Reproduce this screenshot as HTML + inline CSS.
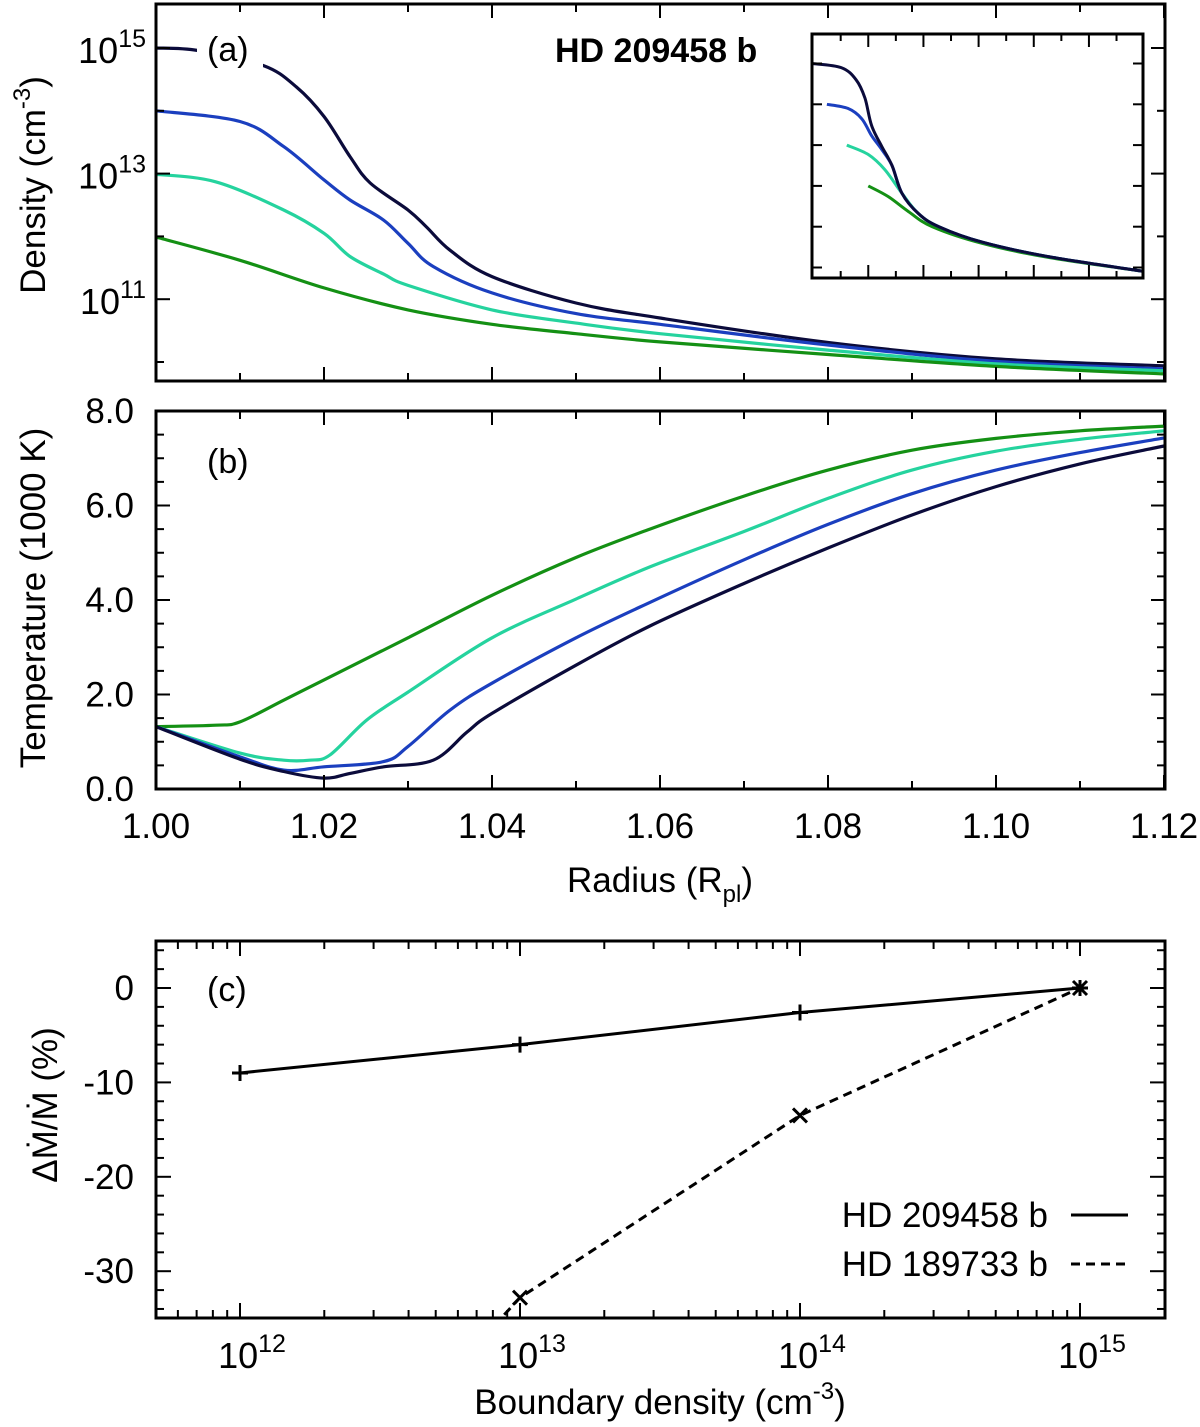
<!DOCTYPE html>
<html><head><meta charset="utf-8"><style>
html,body{margin:0;padding:0;background:#fff;overflow:hidden;}
svg{display:block;}
svg text{font-family:"Liberation Sans",Arial,sans-serif;fill:#000;}
</style></head><body>
<svg id="fig" xmlns="http://www.w3.org/2000/svg" width="1200" height="1427" viewBox="0 0 1200 1427">
<defs>
<clipPath id="clipA"><rect x="156" y="4" width="1009" height="377"/></clipPath>
<clipPath id="clipB"><rect x="156" y="411" width="1009" height="378"/></clipPath>
<clipPath id="clipC"><rect x="156" y="941" width="1009" height="377"/></clipPath>
<clipPath id="clipI"><rect x="812" y="34" width="331" height="244"/></clipPath>
</defs>
<g id="gA"></g>
<g id="gB"></g>
<g id="gC"></g>
<g id="gI"></g>
<g id="gT">
  <rect x="197" y="28" width="66" height="46" fill="#fff"/>
  <text x="207" y="61" font-size="34">(a)</text>
  <text x="555" y="62" font-size="34" font-weight="bold">HD 209458 b</text>
  <text x="207" y="473" font-size="34">(b)</text>
  <text x="207" y="1001" font-size="34">(c)</text>
  <text transform="translate(45,185) rotate(-90)" text-anchor="middle" font-size="35">Density (cm<tspan dy="-15" font-size="24">-3</tspan><tspan dy="15">)</tspan></text>
  <text transform="translate(45,598) rotate(-90)" text-anchor="middle" font-size="35">Temperature (1000 K)</text>
  <text x="660" y="892" text-anchor="middle" font-size="35">Radius (R<tspan dy="10" font-size="24">pl</tspan><tspan dy="-10">)</tspan></text>
  <text transform="translate(57,1105) rotate(-90)" text-anchor="middle" font-size="35">ΔṀ/Ṁ (%)</text>
  <text x="660" y="1414" text-anchor="middle" font-size="35">Boundary density (cm<tspan dy="-15" font-size="24">-3</tspan><tspan dy="15">)</tspan></text>
  <text x="1048" y="1227" text-anchor="end" font-size="35">HD 209458 b</text>
  <line x1="1071" y1="1215" x2="1128" y2="1215" stroke="#000" stroke-width="3"/>
  <text x="1048" y="1276" text-anchor="end" font-size="35">HD 189733 b</text>
  <line x1="1071" y1="1264" x2="1128" y2="1264" stroke="#000" stroke-width="3" stroke-dasharray="9,6"/>
</g>
</svg>
<script>
// ---- Panel (a) density data (log10 cm^-3) ----
const navyX = [1.0,1.005,1.0128,1.0167,1.02,1.0231,1.0255,1.03,1.0322,1.035,1.04,1.05,1.06,1.08,1.10,1.12];
const navyN = [15.0,14.96,14.72,14.38,13.91,13.27,12.85,12.42,12.15,11.78,11.36,10.94,10.70,10.31,10.05,9.94];
const blueX = [1.0,1.01,1.0152,1.02,1.0231,1.0271,1.03,1.033,1.04,1.05,1.06,1.08,1.10,1.12];
const blueN = [14.0,13.83,13.43,12.9,12.58,12.26,11.89,11.52,11.1,10.77,10.6,10.27,10.01,9.89];
const tealX = [1.0,1.0071,1.0152,1.02,1.0231,1.0271,1.03,1.04,1.05,1.06,1.08,1.10,1.12];
const tealN = [12.99,12.87,12.42,12.05,11.68,11.4,11.22,10.83,10.62,10.45,10.19,9.97,9.86];
const greenX = [1.0,1.01,1.02,1.03,1.04,1.05,1.06,1.08,1.10,1.12];
const greenN = [11.99,11.62,11.18,10.83,10.6,10.45,10.32,10.12,9.93,9.81];
// ---- Panel (b) temperature data (1000 K) ----
const navyTX = [1.0,1.01,1.0152,1.02,1.0231,1.0271,1.033,1.037,1.04,1.05,1.0588,1.07,1.08,1.09,1.10,1.11,1.12];
const navyT = [1.32,0.63,0.37,0.23,0.33,0.47,0.61,1.2,1.6,2.62,3.45,4.35,5.1,5.8,6.4,6.88,7.26];
const blueTX = [1.0,1.01,1.0152,1.02,1.0271,1.03,1.035,1.04,1.05,1.0588,1.07,1.08,1.09,1.10,1.11,1.12];
const blueT = [1.32,0.68,0.40,0.47,0.58,0.90,1.67,2.24,3.2,3.95,4.85,5.6,6.25,6.75,7.12,7.43];
const tealTX = [1.0,1.01,1.0152,1.0183,1.0207,1.0251,1.03,1.04,1.05,1.0588,1.07,1.08,1.09,1.10,1.11,1.12];
const tealT = [1.32,0.76,0.61,0.61,0.72,1.46,2.05,3.2,4.02,4.7,5.45,6.15,6.75,7.15,7.4,7.58];
const greenTX = [1.0,1.0071,1.01,1.0152,1.02,1.03,1.04,1.05,1.0588,1.07,1.08,1.09,1.10,1.11,1.12];
const greenT = [1.32,1.35,1.42,1.88,2.31,3.2,4.1,4.9,5.5,6.2,6.75,7.17,7.42,7.58,7.68];
// ---- Inset data (arbitrary x units, log10 density) ----
const insNavyX = [0,0.53,0.8,0.96,1.08,1.26,1.45,1.63,1.93,2.3,3.09,4.31,5.99];
const insNavyN = [15.0,14.9,14.6,14.15,13.48,12.98,12.5,11.82,11.32,11.0,10.62,10.26,9.91];
const insBlueX = [0.27,0.65,0.9,1.08,1.26,1.45,1.63,1.93,2.3,3.09,4.31,5.99];
const insBlueN = [14.0,13.9,13.65,13.23,12.9,12.5,11.82,11.32,11.0,10.62,10.26,9.91];
const insTealX = [0.63,1.02,1.32,1.63,1.93,2.3,3.09,4.31,5.99];
const insTealN = [13.0,12.77,12.4,11.82,11.32,11.0,10.62,10.26,9.91];
const insGreenX = [1.02,1.38,1.75,2.18,3.09,4.31,5.99];
const insGreenN = [12.0,11.74,11.37,11.0,10.59,10.24,9.91];
// ---- Panel (c) mass loss data ----
const boundaryLog = [12,13,14,15];
const hd209Values = [-9,-6,-2.6,0];
const hd189Log = [12,13,14,15];
const hd189Values = [-65,-32.8,-13.5,0];
const ticksA = [15,13,11];
const ticksB = [0,2,4,6,8];
const ticksR = [1.00,1.02,1.04,1.06,1.08,1.10,1.12];
const ticksC = [0,-10,-20,-30];
const ticksCx = [12,13,14,15];

const NS = "http://www.w3.org/2000/svg";
function mk(tag, attrs, parent){const e=document.createElementNS(NS,tag);for(const k in attrs)e.setAttribute(k,attrs[k]);parent.appendChild(e);return e;}
const xR = r => 156 + (r-1)*8400;
const yA = l => 48 + (15-l)*62.8;
const yB = t => 789 - t*47.25;
const xC = l => 240 + (l-12)*280;
const yC = v => 988 - v*9.44;
const xI = v => 812 + v*331/6;
const yI = l => 63.5 + (15-l)*40.8;

function smoothPath(pts){
  let d = "M"+pts[0][0].toFixed(1)+","+pts[0][1].toFixed(1);
  for(let i=0;i<pts.length-1;i++){
    const p0=pts[Math.max(0,i-1)],p1=pts[i],p2=pts[i+1],p3=pts[Math.min(pts.length-1,i+2)];
    const c1=[p1[0]+(p2[0]-p0[0])/6,p1[1]+(p2[1]-p0[1])/6];
    const c2=[p2[0]-(p3[0]-p1[0])/6,p2[1]-(p3[1]-p1[1])/6];
    d+=" C"+c1[0].toFixed(1)+","+c1[1].toFixed(1)+" "+c2[0].toFixed(1)+","+c2[1].toFixed(1)+" "+p2[0].toFixed(1)+","+p2[1].toFixed(1);
  }
  return d;
}
function line(g,x1,y1,x2,y2,w){return mk("line",{x1,y1,x2,y2,stroke:"#000","stroke-width":w||2},g);}

const gA=document.getElementById("gA"),gB=document.getElementById("gB"),gC=document.getElementById("gC"),gI=document.getElementById("gI");
const colors={navy:"#0b0b3b",blue:"#1b3fbf",teal:"#25d39e",green:"#149014"};

const cA = mk("g",{"clip-path":"url(#clipA)"},gA);
[[navyX,navyN,colors.navy,"density-curve-1e15"],[blueX,blueN,colors.blue,"density-curve-1e14"],[tealX,tealN,colors.teal,"density-curve-1e13"],[greenX,greenN,colors.green,"density-curve-1e12"]].forEach(s=>{
  const p = mk("path",{d:smoothPath(s[0].map((x,i)=>[xR(x),yA(s[1][i])])),fill:"none",stroke:s[2],"stroke-width":3.2},cA);
  
  
});
const cB = mk("g",{"clip-path":"url(#clipB)"},gB);
[[greenTX,greenT,colors.green,"temperature-curve-1e12"],[tealTX,tealT,colors.teal,"temperature-curve-1e13"],[blueTX,blueT,colors.blue,"temperature-curve-1e14"],[navyTX,navyT,colors.navy,"temperature-curve-1e15"]].forEach(s=>{
  const p = mk("path",{d:smoothPath(s[0].map((x,i)=>[xR(x),yB(s[1][i])])),fill:"none",stroke:s[2],"stroke-width":3.2},cB);
  
  
});

function radiusTicks(g,top,bot){
  for(let k=0;k<=12;k++){
    const x=xR(1+k*0.01), L=(k%2===0)?14:8;
    line(g,x,top,x,top+L);line(g,x,bot,x,bot-L);
  }
}
radiusTicks(gA,4,381); radiusTicks(gB,411,789);
for(let l=10;l<=15;l++){
  const y=yA(l), L=(ticksA.indexOf(l)>=0)?14:8;
  line(gA,156,y,156+L,y);line(gA,1165,y,1165-L,y);
}
ticksA.forEach(l=>{
  const t=mk("text",{x:146,y:yA(l)+15,"text-anchor":"end","font-size":36},gA);
  
  
  t.textContent="10";
  const s=mk("tspan",{dy:-16,"font-size":25},t); s.textContent=String(l);
});
for(let v=0;v<=8;v+=0.5){
  const y=yB(v), L=(v%2===0)?14:8;
  line(gB,156,y,156+L,y);line(gB,1165,y,1165-L,y);
}
ticksB.forEach(v=>{
  const t=mk("text",{x:134,y:yB(v)+12,"text-anchor":"end","font-size":35},gB);
  
  
  t.textContent=v.toFixed(1);
});
ticksR.forEach(r=>{
  const t=mk("text",{x:xR(r),y:838,"text-anchor":"middle","font-size":35},gB);
  
  
  t.textContent=r.toFixed(2);
});
mk("rect",{x:156,y:4,width:1009,height:377,fill:"none",stroke:"#000","stroke-width":3},gA);
mk("rect",{x:156,y:411,width:1009,height:378,fill:"none",stroke:"#000","stroke-width":3},gB);

mk("rect",{x:812,y:34,width:331,height:244,fill:"#fff",stroke:"none"},gI);
const cI = mk("g",{"clip-path":"url(#clipI)"},gI);
[[insGreenX,insGreenN,colors.green,"inset-curve-1e12"],[insTealX,insTealN,colors.teal,"inset-curve-1e13"],[insBlueX,insBlueN,colors.blue,"inset-curve-1e14"],[insNavyX,insNavyN,colors.navy,"inset-curve-1e15"]].forEach(s=>{
  const p = mk("path",{d:smoothPath(s[0].map((x,i)=>[xI(x),yI(s[1][i])])),fill:"none",stroke:s[2],"stroke-width":3},cI);
  
  
});
for(let l=10;l<=15;l++){const y=yI(l);line(gI,812,y,822,y);line(gI,1143,y,1133,y);}
for(let k=1;k<=11;k++){const x=xI(k*0.5+0.02),L=(k%2===0)?13:7;line(gI,x,34,x,34+L);line(gI,x,278,x,278-L);}
mk("rect",{x:812,y:34,width:331,height:244,fill:"none",stroke:"#000","stroke-width":3},gI);

const cC = mk("g",{"clip-path":"url(#clipC)"},gC);
const p209=mk("polyline",{points:boundaryLog.map((l,i)=>xC(l)+","+yC(hd209Values[i])).join(" "),fill:"none",stroke:"#000","stroke-width":3},cC);


const p189=mk("polyline",{points:hd189Log.map((l,i)=>xC(l)+","+yC(hd189Values[i])).join(" "),fill:"none",stroke:"#000","stroke-width":3,"stroke-dasharray":"9,6"},cC);


boundaryLog.forEach((l,i)=>{
  const x=xC(l),y=yC(hd209Values[i]);
  const m=mk("path",{d:`M${x-8},${y}H${x+8}M${x},${y-8}V${y+8}`,stroke:"#000","stroke-width":3},cC);
  
  
});
hd189Log.forEach((l,i)=>{
  const x=xC(l),y=yC(hd189Values[i]);
  const m=mk("path",{d:`M${x-7},${y-7}L${x+7},${y+7}M${x-7},${y+7}L${x+7},${y-7}`,stroke:"#000","stroke-width":3},cC);
  
  
});
for(let d=11;d<=15;d++){
  for(let m=1;m<=9;m++){
    const x=xC(d+Math.log10(m)); if(x<157||x>1164)continue;
    const L=(m===1)?15:8;
    line(gC,x,941,x,941+L);line(gC,x,1318,x,1318-L);
  }
}
for(let v=4;v>=-34;v-=2){
  const y=yC(v),L=(v%10===0)?15:8;
  line(gC,156,y,156+L,y);line(gC,1165,y,1165-L,y);
}
ticksC.forEach(v=>{
  const t=mk("text",{x:134,y:yC(v)+12,"text-anchor":"end","font-size":35},gC);
  
  
  t.textContent=String(v);
});
ticksCx.forEach(l=>{
  const t=mk("text",{x:xC(l)+12,y:1368,"text-anchor":"middle","font-size":36},gC);
  
  
  t.textContent="10";
  const s=mk("tspan",{dy:-16,"font-size":25},t); s.textContent=String(l);
});
mk("rect",{x:156,y:941,width:1009,height:377,fill:"none",stroke:"#000","stroke-width":3},gC);
</script>
</body></html>
